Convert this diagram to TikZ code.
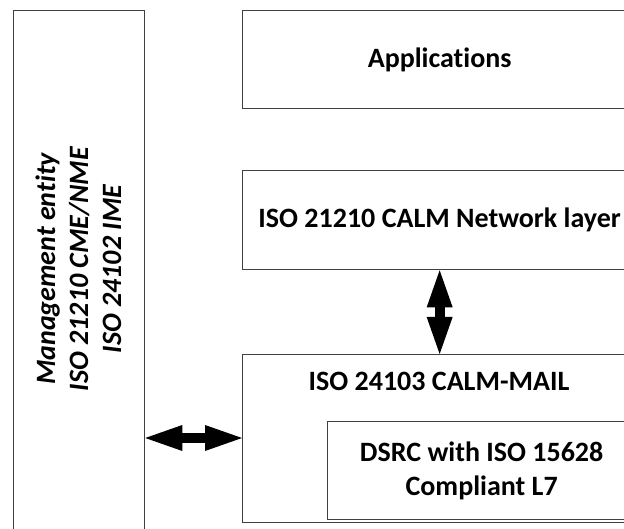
\documentclass[tikz,border=0pt]{standalone}
\usepackage{fontspec}
\setmainfont{Carlito}[Ligatures=CommonOff]
\usetikzlibrary{arrows.meta}
\begin{document}
\begin{tikzpicture}[x=1pt,y=-1pt,
  box/.style={draw=black!75, line width=1.3pt, rectangle, inner sep=0pt, anchor=north west},
  lbl/.style={font=\fontsize{28}{34}\selectfont\bfseries, align=center, inner sep=0pt},
  fatarrow/.style={line width=10pt, black,
    {Triangle[length=37pt,width=26pt,line width=0pt]}-{Triangle[length=37pt,width=26pt,line width=0pt]}}]
  \useasboundingbox (0,0) rectangle (624,529);
  \clip (0,0) rectangle (624,529);

  % management entity column (runs off the bottom edge)
  \node[box, minimum width=131pt, minimum height=530pt] (mgmt) at (13,10) {};
  \node[lbl, rotate=90, font=\fontsize{28}{33}\selectfont\bfseries\itshape] (mgmttext) at (78.5,269)
    {Management entity\\ISO 21210 CME/NME\\ISO 24102 IME};

  % protocol stack (runs off the right edge)
  \node[box, minimum width=394pt, minimum height=98pt] (app) at (242,10) {};
  \node[lbl] (apptext) at (app.center) {Applications};

  \node[box, minimum width=394pt, minimum height=99pt] (net) at (242,170) {};
  \node[lbl] (nettext) at (net.center) {ISO 21210 CALM Network layer};

  \node[box, minimum width=394pt, minimum height=168pt] (mail) at (242,354) {};
  \node[lbl, anchor=base] (mailtext) at (439,390) {ISO 24103 CALM-MAIL};

  \node[box, minimum width=308pt, minimum height=98pt] (dsrc) at (327,421) {};
  \node[lbl] (dsrctext) at (dsrc.center) {DSRC with ISO 15628\\Compliant L7};

  % interfaces
  \coordinate (hy) at (0,438);
  \draw[fatarrow] (net.south) -- (mail.north);
  \draw[fatarrow] (mgmt.east |- hy) -- (mail.west |- hy);
\end{tikzpicture}
\end{document}
